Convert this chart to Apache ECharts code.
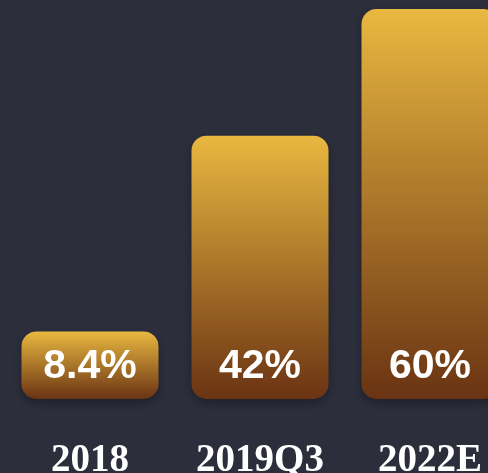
<!DOCTYPE html>
<html>
<head>
<meta charset="utf-8">
<script src="https://cdn.jsdelivr.net/npm/echarts@6/dist/echarts.min.js"></script>
<style>
  html, body { margin: 0; padding: 0; background: #2c2e3c; }
  #main { width: 488px; height: 473px; }
</style>
</head>
<body>
<div id="main"></div>
<script>
// categories and values
var years = ['2018', '2019Q3', '2022E'];
var shares = [8.4, 42, 60];

var myChart = echarts.init(document.getElementById('main'));

var option = {
  backgroundColor: '#2c2e3c',
  animation: false,
  grid: {
    left: 5,
    right: -27,
    top: 9,
    bottom: 74,
    containLabel: false,
    outerBoundsMode: 'none'
  },
  xAxis: {
    type: 'category',
    data: years,
    axisLine: { show: false },
    axisTick: { show: false },
    axisLabel: {
      interval: 0,
      hideOverlap: false,
      color: '#ffffff',
      fontFamily: 'Liberation Serif',
      fontWeight: 'bold',
      fontSize: 39,
      margin: 42
    }
  },
  yAxis: {
    type: 'value',
    min: 4.6,
    max: 60,
    show: false,
    splitLine: { show: false }
  },
  series: [{
    type: 'bar',
    data: shares,
    barWidth: 137,
    // bars start at 0 (below the grid) and get clipped, so the min height counts that part too
    barMinHeight: 100,
    itemStyle: {
      borderRadius: 15,
      color: new echarts.graphic.LinearGradient(0, 0, 0, 1, [
        { offset: 0, color: '#e9b840' },
        { offset: 1, color: '#6a3313' }
      ]),
      shadowColor: 'rgba(0,0,0,0.35)',
      shadowBlur: 10,
      shadowOffsetY: 4
    },
    label: {
      show: true,
      position: 'insideBottom',
      distance: 12,
      formatter: '{c}%',
      color: '#ffffff',
      fontFamily: 'Liberation Sans',
      fontWeight: 'bold',
      fontSize: 41
    }
  }]
};

myChart.setOption(option);
</script>
</body>
</html>
